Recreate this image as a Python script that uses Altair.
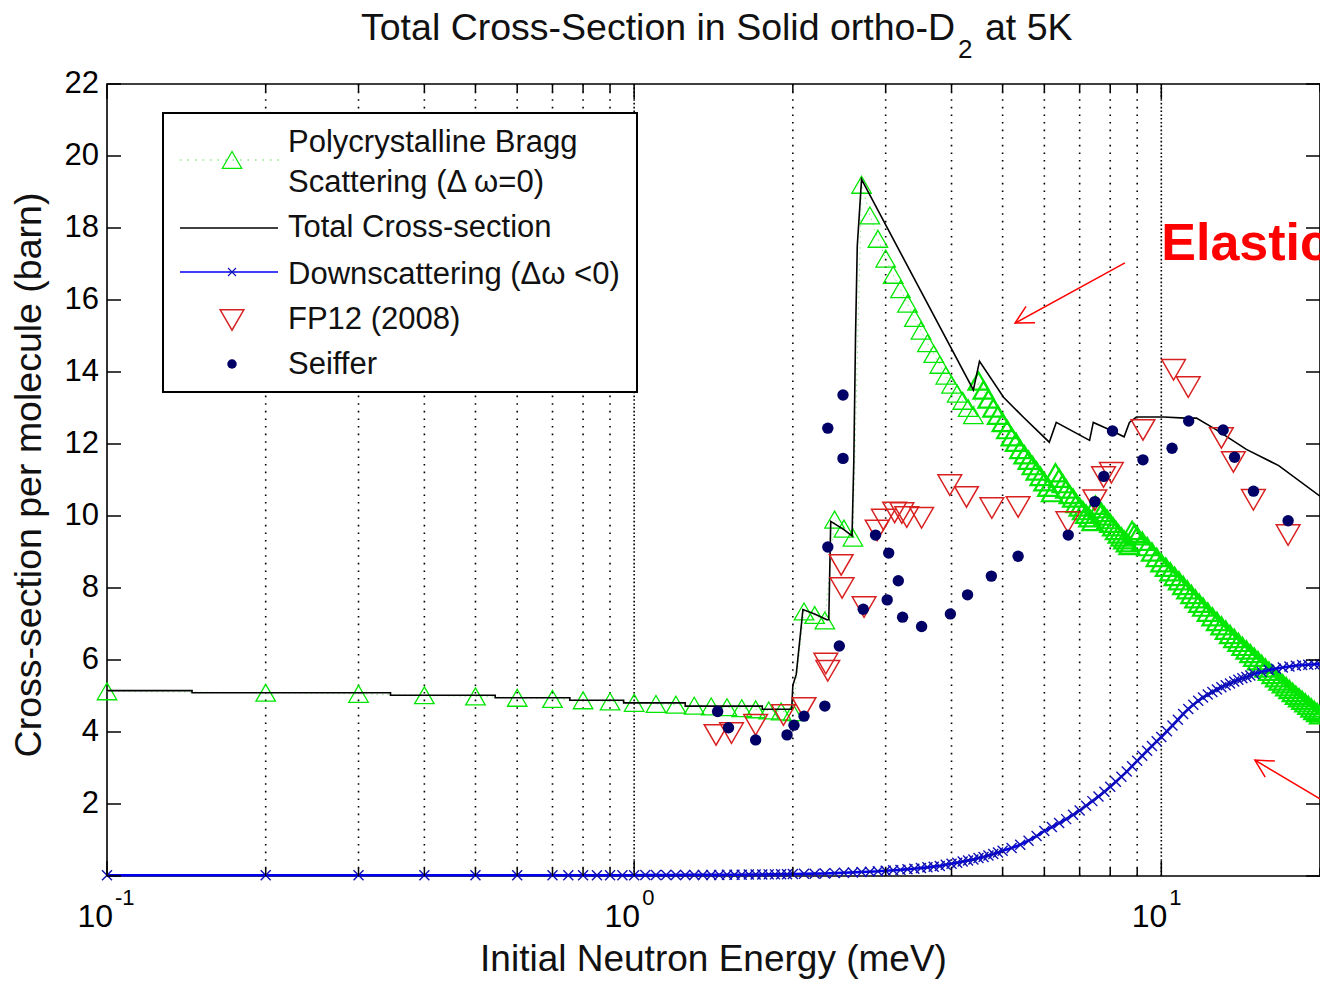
import altair as alt
import pandas as pd

FONT = "Liberation Sans"
W, H = 1213, 792

GREEN = "#00e600"
RED = "#d92020"
NAVY = "#000066"
BLUE_LINE = "#0000ee"
BLUE_MARK = "#1010b4"
ARROW_RED = "#ff0000"

# ---------------- data ----------------
bragg_E = [
    0.1, 0.2, 0.3, 0.4, 0.5, 0.6, 0.7, 0.8, 0.9,
    1.0, 1.1, 1.2, 1.3, 1.4, 1.5, 1.6, 1.7, 1.8, 1.9, 2.0,
    2.1, 2.2, 2.3, 2.4, 2.5, 2.6,
    2.7, 2.8, 2.9, 3.0, 3.1, 3.2, 3.3, 3.4, 3.5, 3.6, 3.7, 3.8, 3.9, 4.0, 4.1, 4.2, 4.3, 4.4,
    4.5, 4.6, 4.7, 4.8, 4.9, 5.0, 5.1, 5.2, 5.3, 5.4, 5.5, 5.6, 5.7, 5.8, 5.9, 6.0, 6.1, 6.2,
    6.3, 6.4, 6.5, 6.6, 6.7, 6.8, 6.9, 7.0, 7.1, 7.2, 7.3, 7.4,
    7.5, 7.6, 7.7, 7.8, 7.9, 8.0, 8.1, 8.2, 8.3, 8.4, 8.5, 8.6, 8.7,
    8.8, 8.9, 9.0, 9.2, 9.4, 9.6, 9.8, 10.0, 10.2, 10.4, 10.6, 10.8, 11.0, 11.2, 11.4, 11.6, 11.8, 12.0,
    12.25, 12.5, 12.75, 13.0, 13.25, 13.5, 13.75, 14.0, 14.25, 14.5, 14.75, 15.0,
    15.25, 15.5, 15.75, 16.0, 16.25, 16.5, 16.75, 17.0, 17.25, 17.5, 17.75, 18.0,
    18.25, 18.5, 18.75, 19.0, 19.25, 19.5, 19.75, 20.0,
]
bragg_xs = [
    5.13, 5.09, 5.06, 5.02, 4.99, 4.95, 4.92, 4.88, 4.85,
    4.81, 4.78, 4.76, 4.73, 4.71, 4.69, 4.66, 4.63, 4.60, 4.57, 4.55,
    7.35, 7.25, 7.10, 9.90, 9.65, 9.40,
    19.20, 18.35, 17.70, 17.15, 16.70, 16.30, 15.90, 15.50, 15.15, 14.80, 14.50, 14.20, 13.90, 13.65, 13.40, 13.20, 13.00, 12.80,
    13.75, 13.50, 13.25, 13.00, 12.80, 12.60, 12.40, 12.20, 12.05, 11.85, 11.70, 11.55, 11.40, 11.25, 11.10, 10.95, 10.80, 10.65,
    11.20, 11.05, 10.90, 10.75, 10.60, 10.50, 10.35, 10.25, 10.15, 10.05, 9.95, 9.85,
    10.30, 10.20, 10.10, 10.00, 9.90, 9.80, 9.70, 9.60, 9.50, 9.42, 9.34, 9.26, 9.18,
    9.60, 9.52, 9.45, 9.30, 9.15, 9.00, 8.85, 8.70, 8.58, 8.45, 8.32, 8.20, 8.07, 7.95, 7.82, 7.70, 7.58, 7.47,
    7.33, 7.20, 7.07, 6.95, 6.83, 6.71, 6.60, 6.49, 6.38, 6.28, 6.18, 6.08,
    5.98, 5.88, 5.78, 5.69, 5.60, 5.51, 5.42, 5.34, 5.26, 5.18, 5.10, 5.02,
    4.95, 4.88, 4.81, 4.74, 4.67, 4.60, 4.54, 4.48,
]

total_E = [0.1, 0.145, 0.145, 0.345, 0.345, 0.545, 0.545, 0.755, 0.755, 0.955, 0.955,
           1.25, 1.25, 1.75, 1.75, 1.99, 2.0, 2.03, 2.09, 2.2, 2.32, 2.34, 2.36, 2.5,
           2.59, 2.61, 2.63, 2.65, 2.70, 4.40, 4.52, 5.02, 5.47, 6.13, 6.32, 7.31,
           7.43, 7.96, 8.5, 8.7, 8.97, 10.1, 11.1, 11.66, 12.7, 14.5, 16.7, 20.0]
total_xs = [5.15, 5.15, 5.09, 5.09, 5.02, 5.02, 4.95, 4.95, 4.88, 4.88, 4.81,
            4.81, 4.72, 4.72, 4.63, 4.63, 5.3, 5.6, 7.4, 7.28, 7.12, 7.12, 9.85, 9.62,
            9.45, 11.5, 15.0, 17.5, 19.35, 13.5, 14.3, 13.3, 12.75, 12.05, 12.6, 12.1,
            12.6, 12.4, 12.2, 12.6, 12.75, 12.75, 12.72, 12.72, 12.4, 11.85, 11.4, 10.55]

down_E = [0.1, 0.2, 0.3, 0.4, 0.5, 0.6, 0.7,
          0.75, 0.8, 0.85, 0.9, 0.95, 1.0, 1.05, 1.1, 1.15, 1.2, 1.25, 1.3, 1.35, 1.4, 1.45, 1.5,
          1.55, 1.6, 1.65, 1.7, 1.75, 1.8, 1.85, 1.9, 1.95, 2.0,
          2.1, 2.2, 2.3, 2.4, 2.5, 2.6, 2.7, 2.8, 2.9, 3.0,
          3.1, 3.2, 3.3, 3.4, 3.5, 3.6, 3.7, 3.8, 3.9, 4.0,
          4.1, 4.2, 4.3, 4.4, 4.5, 4.6, 4.7, 4.8, 4.9, 5.0,
          5.2, 5.4, 5.6, 5.8, 6.0, 6.2, 6.4, 6.6, 6.8, 7.0, 7.2, 7.4, 7.6, 7.8, 8.0,
          8.2, 8.4, 8.6, 8.8, 9.0, 9.2, 9.4, 9.6, 9.8, 10.0,
          10.25, 10.5, 10.75, 11.0, 11.25, 11.5, 11.75, 12.0, 12.25, 12.5, 12.75, 13.0,
          13.25, 13.5, 13.75, 14.0, 14.25, 14.5, 14.75, 15.0,
          15.5, 16.0, 16.5, 17.0, 17.5, 18.0, 18.5, 19.0, 19.5, 20.0]
down_xs = [0.02, 0.02, 0.02, 0.02, 0.02, 0.02, 0.02,
           0.02, 0.02, 0.02, 0.02, 0.02, 0.02, 0.025, 0.025, 0.025, 0.025, 0.03, 0.03, 0.03, 0.03, 0.03, 0.035,
           0.035, 0.035, 0.04, 0.04, 0.04, 0.045, 0.045, 0.05, 0.05, 0.055,
           0.06, 0.065, 0.07, 0.08, 0.09, 0.10, 0.11, 0.12, 0.13, 0.145,
           0.16, 0.17, 0.19, 0.20, 0.22, 0.24, 0.26, 0.28, 0.31, 0.34,
           0.37, 0.40, 0.43, 0.46, 0.50, 0.53, 0.57, 0.61, 0.65, 0.70,
           0.78, 0.87, 0.98, 1.11, 1.25, 1.36, 1.47, 1.58, 1.70, 1.82, 1.95, 2.08, 2.21, 2.34, 2.48,
           2.62, 2.76, 2.90, 3.05, 3.20, 3.34, 3.48, 3.61, 3.74, 3.86,
           4.02, 4.18, 4.34, 4.50, 4.64, 4.76, 4.87, 4.96, 5.04, 5.11, 5.18, 5.24,
           5.30, 5.35, 5.40, 5.45, 5.49, 5.53, 5.57, 5.61,
           5.67, 5.72, 5.76, 5.79, 5.82, 5.84, 5.86, 5.87, 5.88, 5.88]

fp12_E = [1.43, 1.53, 1.70, 1.92, 2.10, 2.31, 2.33, 2.47, 2.48, 2.73, 2.89, 2.97, 3.12,
          3.22, 3.29, 3.51, 3.97, 4.27, 4.77, 5.35, 6.65, 7.48, 7.77, 8.04, 9.23, 10.55,
          11.25, 13.0, 13.7, 14.95, 17.4]
fp12_xs = [3.92, 3.97, 4.20, 4.47, 4.67, 5.90, 5.70, 8.64, 8.00, 7.47, 9.60, 9.90, 10.10,
           10.08, 9.97, 9.95, 10.86, 10.53, 10.22, 10.25, 9.83, 10.44, 11.08, 11.20, 12.39, 14.06,
           13.58, 12.17, 11.50, 10.45, 9.47]

seiffer_E = [1.44, 1.51, 1.70, 1.95, 2.01, 2.10, 2.30, 2.45, 2.33, 2.33, 2.49, 2.49, 2.72,
             2.87, 3.02, 3.04, 3.17, 3.23, 3.51, 3.98, 4.29, 4.76, 5.35, 6.66, 7.48, 7.78,
             8.08, 9.23, 10.48, 11.27, 13.1, 13.77, 14.96, 17.4]
seiffer_xs = [4.57, 4.12, 3.78, 3.92, 4.19, 4.44, 4.72, 6.39, 9.14, 12.44, 11.60, 13.36, 7.41,
              9.47, 7.67, 8.97, 8.20, 7.19, 6.93, 7.28, 7.81, 8.33, 8.88, 9.47, 10.40, 11.10,
              12.36, 11.56, 11.88, 12.64, 12.39, 11.63, 10.69, 9.87]

grid_E = [0.2, 0.3, 0.4, 0.5, 0.6, 0.7, 0.8, 0.9, 1, 2, 3, 4, 5, 6, 7, 8, 9, 10]
major_grid_E = [1, 10]
x_major_ticks = [0.1, 1, 10]
x_tick_exponents = ["-1", "0", "1"]
x_minor_ticks = [0.2, 0.3, 0.4, 0.5, 0.6, 0.7, 0.8, 0.9, 2, 3, 4, 5, 6, 7, 8, 9, 20]
y_ticks = [0, 2, 4, 6, 8, 10, 12, 14, 16, 18, 20, 22]
y_tick_labels = [2, 4, 6, 8, 10, 12, 14, 16, 18, 20, 22]

legend_labels = ["Polycrystalline Bragg", "Scattering (\u0394 \u03c9=0)", "Total Cross-section",
                 "Downscattering (\u0394\u03c9 <0)", "FP12 (2008)", "Seiffer"]
legend_label_y = [59, 99, 144, 191, 236, 281]

arrow_E1 = [8.53, 20.0]
arrow_v1 = [17.03, 2.14]
arrow_E2 = [5.28, 15.05]
arrow_v2 = [15.36, 3.22]
arrow_angle = [151.4, 210.8]

assert len(bragg_E) == len(bragg_xs)
assert len(total_E) == len(total_xs)
assert len(down_E) == len(down_xs)
assert len(fp12_E) == len(fp12_xs)
assert len(seiffer_E) == len(seiffer_xs)

# ---------------- helpers ----------------
xsc = alt.Scale(type="log", domain=[0.1, 20], nice=False)
ysc = alt.Scale(domain=[0, 22], nice=False, zero=False)


def X(f):
    return alt.X(f"{f}:Q", scale=xsc, axis=None)


def Y(f):
    return alt.Y(f"{f}:Q", scale=ysc, axis=None)


def df(**cols):
    return pd.DataFrame(cols)


one = df(k=[0])

bragg_df = df(E=bragg_E, xs=bragg_xs, i=list(range(len(bragg_E))))
bragg_lo = bragg_df[bragg_df["E"] < 4.45]
bragg_hi = bragg_df[bragg_df["E"] >= 4.45]
total_df = df(E=total_E, xs=total_xs, i=list(range(len(total_E))))
down_df = df(E=down_E, xs=down_xs, i=list(range(len(down_E))))
fp12_df = df(E=fp12_E, xs=fp12_xs)
seiffer_df = df(E=seiffer_E, xs=seiffer_xs)

XPATH = "M-1,-1L1,1M-1,1L1,-1"
layers = []

# grid lines
GRID = dict(color="#000", strokeWidth=1.6, strokeDash=[1.6, 6])
layers.append(alt.Chart(df(E=grid_E)).mark_rule(**GRID).encode(x=X("E")))
layers.append(alt.Chart(df(E=major_grid_E)).mark_rule(strokeDashOffset=4, **GRID).encode(x=X("E")))

# Bragg
layers.append(alt.Chart(bragg_df).mark_line(color="#8ae88a", strokeWidth=1, strokeDash=[1.5, 4]).encode(
    x=X("E"), y=Y("xs"), order="i:Q"))
layers.append(alt.Chart(bragg_lo).mark_point(shape="triangle-up", filled=False, color=GREEN, size=380,
                                             strokeWidth=1.3, opacity=1).encode(x=X("E"), y=Y("xs")))
layers.append(alt.Chart(bragg_hi).mark_point(shape="triangle-up", filled=False, color=GREEN, size=400,
                                             strokeWidth=2.2, opacity=1).encode(x=X("E"), y=Y("xs")))
# Total
layers.append(alt.Chart(total_df).mark_line(color="black", strokeWidth=1.6).encode(
    x=X("E"), y=Y("xs"), order="i:Q"))
# Downscattering
layers.append(alt.Chart(down_df).mark_line(color=BLUE_LINE, strokeWidth=2.6).encode(
    x=X("E"), y=Y("xs"), order="i:Q"))
layers.append(alt.Chart(down_df).mark_point(shape=XPATH, filled=False, color=BLUE_MARK, size=100,
                                            strokeWidth=1.4, opacity=1).encode(x=X("E"), y=Y("xs")))
# FP12
layers.append(alt.Chart(fp12_df).mark_point(shape="triangle-down", filled=False, color=RED, size=560,
                                            strokeWidth=1.5, opacity=1).encode(x=X("E"), y=Y("xs")))
# Seiffer
layers.append(alt.Chart(seiffer_df).mark_point(shape="circle", filled=True, color=NAVY, size=130,
                                               opacity=1).encode(x=X("E"), y=Y("xs")))

# inward ticks
tick = dict(color="black", strokeWidth=1.5)
layers.append(alt.Chart(df(v=y_ticks)).mark_rule(**tick).encode(y=Y("v"), x=alt.value(0), x2=alt.value(14)))
layers.append(alt.Chart(df(v=y_ticks)).mark_rule(**tick).encode(y=Y("v"), x=alt.value(W - 14), x2=alt.value(W)))
layers.append(alt.Chart(df(E=x_major_ticks)).mark_rule(**tick).encode(x=X("E"), y=alt.value(H - 15), y2=alt.value(H)))
layers.append(alt.Chart(df(E=x_minor_ticks)).mark_rule(**tick).encode(x=X("E"), y=alt.value(H - 8), y2=alt.value(H)))
layers.append(alt.Chart(df(E=x_major_ticks)).mark_rule(**tick).encode(x=X("E"), y=alt.value(0), y2=alt.value(15)))
layers.append(alt.Chart(df(E=x_minor_ticks)).mark_rule(**tick).encode(x=X("E"), y=alt.value(0), y2=alt.value(8)))

# tick labels
layers.append(alt.Chart(df(v=y_tick_labels)).mark_text(align="right", baseline="middle", font=FONT,
                                                       fontSize=31, color="black").encode(
    y=Y("v"), x=alt.value(-8), text=alt.Text("v:Q", format="d")))
layers.append(alt.Chart(df(E=x_major_ticks)).mark_text(align="right", baseline="alphabetic", font=FONT,
                                                       fontSize=32, dx=6, color="black").encode(
    x=X("E"), y=alt.value(H + 51), text=alt.value("10")))
layers.append(alt.Chart(df(E=x_major_ticks, ex=x_tick_exponents)).mark_text(
    align="left", baseline="alphabetic", font=FONT, fontSize=22, dx=8, color="black").encode(
    x=X("E"), y=alt.value(H + 29), text="ex:N"))

# titles
layers.append(alt.Chart(one).mark_text(align="right", baseline="alphabetic", font=FONT, fontSize=37.5,
                                       color="#111").encode(
    x=alt.value(848), y=alt.value(-44), text=alt.value("Total Cross-Section in Solid ortho-D")))
layers.append(alt.Chart(one).mark_text(align="left", baseline="alphabetic", font=FONT, fontSize=26,
                                       color="#111").encode(
    x=alt.value(851), y=alt.value(-26), text=alt.value("2")))
layers.append(alt.Chart(one).mark_text(align="left", baseline="alphabetic", font=FONT, fontSize=37.5,
                                       color="#111").encode(
    x=alt.value(878), y=alt.value(-44), text=alt.value("at 5K")))
layers.append(alt.Chart(one).mark_text(align="center", baseline="alphabetic", font=FONT, fontSize=37,
                                       color="#111").encode(
    x=alt.value(W / 2), y=alt.value(H + 95), text=alt.value("Initial Neutron Energy (meV)")))
layers.append(alt.Chart(one).mark_text(align="center", baseline="middle", font=FONT, fontSize=37.5,
                                       angle=270, color="#111").encode(
    x=alt.value(-77), y=alt.value(H / 2 - 5), text=alt.value("Cross-section per molecule (barn)")))

# annotations
arrow_df = df(E1=arrow_E1, v1=arrow_v1, E2=arrow_E2, v2=arrow_v2, ang=arrow_angle)
layers.append(alt.Chart(arrow_df).mark_rule(color=ARROW_RED, strokeWidth=1.5).encode(
    x=X("E1"), x2=alt.X2("E2"), y=Y("v1"), y2=alt.Y2("v2")))
layers.append(alt.Chart(arrow_df).mark_point(shape="M-0.88,-0.47L0,0L-0.88,0.47", filled=False,
                                             color=ARROW_RED, strokeWidth=1.5, size=1600, opacity=1).encode(
    x=X("E2"), y=Y("v2"), angle=alt.Angle("ang:Q", scale=None)))
layers.append(alt.Chart(df(E=[10.0], v=[17.1], t=["Elastic"])).mark_text(
    align="left", baseline="alphabetic", font=FONT, fontSize=52, fontWeight="bold", color=ARROW_RED).encode(
    x=X("E"), y=Y("v"), text="t:N"))

# legend
layers.append(alt.Chart(one).mark_rect(fill="white", stroke="black", strokeWidth=2).encode(
    x=alt.value(56), x2=alt.value(530), y=alt.value(29), y2=alt.value(308)))
layers.append(alt.Chart(one).mark_rule(color="#8ae88a", strokeWidth=1.5, strokeDash=[1.5, 6]).encode(
    x=alt.value(73), x2=alt.value(175), y=alt.value(76)))
layers.append(alt.Chart(one).mark_point(shape="triangle-up", filled=False, color=GREEN, size=380,
                                        strokeWidth=1.2, opacity=1).encode(x=alt.value(125), y=alt.value(76)))
layers.append(alt.Chart(one).mark_rule(color="black", strokeWidth=1.6).encode(
    x=alt.value(73), x2=alt.value(171), y=alt.value(144)))
layers.append(alt.Chart(one).mark_rule(color=BLUE_LINE, strokeWidth=1.6).encode(
    x=alt.value(73), x2=alt.value(171), y=alt.value(188)))
layers.append(alt.Chart(one).mark_point(shape=XPATH, filled=False, color=BLUE_MARK, size=64,
                                        strokeWidth=1.1, opacity=1).encode(x=alt.value(125), y=alt.value(188)))
layers.append(alt.Chart(one).mark_point(shape="triangle-down", filled=False, color=RED, size=560,
                                        strokeWidth=1.5, opacity=1).encode(x=alt.value(125), y=alt.value(236)))
layers.append(alt.Chart(one).mark_point(shape="circle", filled=True, color=NAVY, size=90,
                                        opacity=1).encode(x=alt.value(125), y=alt.value(280)))
layers.append(alt.Chart(df(t=legend_labels, py=legend_label_y)).mark_text(
    align="left", baseline="middle", font=FONT, fontSize=31, color="#111").encode(
    x=alt.value(181), y=alt.Y("py:Q", scale=None, axis=None), text="t:N"))

chart = alt.layer(*layers).properties(
    width=W, height=H,
    autosize=alt.AutoSizeParams(type="none"),
    padding={"left": 107, "top": 84, "right": 0, "bottom": 106},
    background="white",
).configure_view(stroke="black", strokeWidth=1.6)

chart.save("out.html", embed_options={"renderer": "svg", "actions": False})
